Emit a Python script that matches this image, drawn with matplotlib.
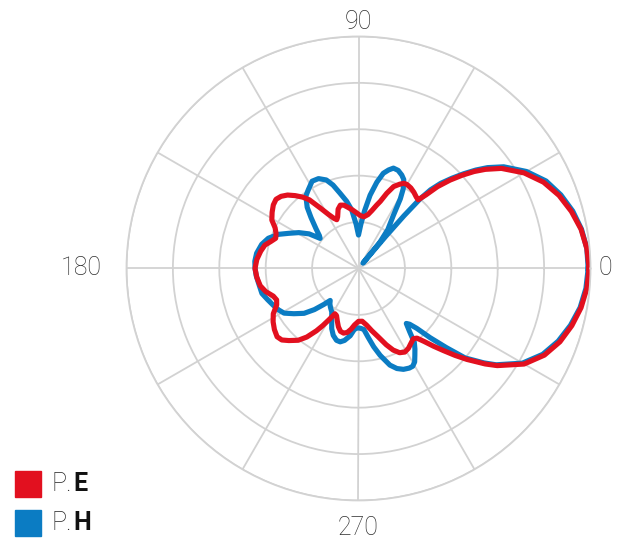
import numpy as np
import matplotlib
matplotlib.use("Agg")
import matplotlib.pyplot as plt
from matplotlib.patches import Rectangle

# radiation pattern, angle in degrees, radius in grid-ring units (0..5)
pe_deg = [0, 5, 10, 15, 20, 25, 30, 35, 38, 40, 42, 44, 46, 47.5, 49, 51, 54, 57, 60, 62,
          64, 66.8, 69.4, 72, 74, 77, 80, 84, 88, 92, 96, 100, 103, 106, 109, 112, 114, 116,
          119, 122, 125.6, 128, 131, 134, 137, 140, 143.3, 147, 150.8, 154, 157, 160, 163,
          166, 170, 175, 180, 185, 190, 194, 198, 201, 204, 208, 212, 216, 220, 223, 226,
          230, 233, 236, 238, 240, 242.5, 245, 248, 251, 254, 257, 260, 263, 266, 270, 274,
          278, 282, 286, 290, 293, 296, 299, 302, 305, 308, 310, 312, 314, 316, 318, 320,
          323, 325, 330, 335, 340, 345, 350, 355, 360]
pe_r = [4.97, 4.94, 4.87, 4.75, 4.6, 4.4, 4.12, 3.76, 3.47, 3.25, 3.0, 2.74, 2.45, 2.15,
        1.96, 1.98, 2.03, 2.07, 2.09, 2.08, 2.02, 1.92, 1.73, 1.52, 1.42, 1.28, 1.18, 1.12,
        1.14, 1.2, 1.27, 1.34, 1.4, 1.42, 1.35, 1.2, 1.15, 1.2, 1.33, 1.52, 1.82, 1.95, 2.08,
        2.2, 2.28, 2.32, 2.29, 2.22, 2.14, 2.0, 1.93, 1.9, 1.98, 2.08, 2.14, 2.2, 2.23, 2.2,
        2.15, 2.06, 1.93, 1.89, 1.93, 2.08, 2.17, 2.24, 2.29, 2.26, 2.16, 2.02, 1.85, 1.62,
        1.45, 1.28, 1.1, 1.12, 1.22, 1.33, 1.41, 1.43, 1.4, 1.32, 1.22, 1.14, 1.14, 1.23,
        1.37, 1.53, 1.75, 1.91, 2.02, 2.06, 2.03, 1.97, 1.92, 1.96, 2.12, 2.33, 2.55, 2.8,
        3.05, 3.42, 3.65, 4.12, 4.42, 4.62, 4.76, 4.87, 4.94, 4.97]

ph_deg = [0, 5, 10, 15, 20, 25, 30, 35, 38, 40, 42, 44, 46, 47.5, 48.5, 49.2, 49.7, 50.2,
          50.9, 53, 56.7, 59, 60.7, 63, 65.2, 68, 70.8, 73, 75.4, 78, 81, 84, 87, 90, 93,
          96.6, 100, 103.8, 107, 110, 114, 118, 122.6, 126, 130, 133, 137, 140, 141.9, 145,
          149, 153.4, 157, 161.5, 166, 171.5, 176, 180, 184, 188, 194.5, 199, 203.4, 207.4,
          211, 215, 219.5, 223, 226, 228.5, 231, 234, 238.4, 242.5, 246, 249.3, 253, 256,
          259, 263, 266, 269, 272, 275, 278, 281, 284, 288, 291, 294, 297, 299, 301, 303,
          305, 307, 309, 311, 312.5, 314.2, 316, 318, 320, 323, 325, 330, 335, 340, 345,
          350, 355, 360]
ph_r = [4.95, 4.94, 4.88, 4.78, 4.64, 4.46, 4.18, 3.82, 3.53, 3.3, 3.05, 2.8, 2.55, 2.3,
        2.0, 1.5, 0.9, 0.15, 0.74, 1.05, 1.37, 1.75, 1.97, 2.15, 2.22, 2.28, 2.29, 2.22,
        2.12, 1.9, 1.6, 1.25, 0.95, 0.72, 0.95, 1.27, 1.47, 1.67, 1.88, 2.03, 2.12, 2.13,
        2.01, 1.93, 1.72, 1.5, 1.25, 1.1, 1.05, 1.3, 1.5, 1.69, 1.88, 2.05, 2.15, 2.22,
        2.24, 2.23, 2.21, 2.18, 2.15, 2.07, 2.0, 1.94, 1.87, 1.7, 1.52, 1.3, 1.08, 0.92,
        0.98, 1.03, 1.1, 1.25, 1.42, 1.54, 1.62, 1.63, 1.58, 1.46, 1.32, 1.28, 1.29, 1.32,
        1.5, 1.72, 1.93, 2.19, 2.31, 2.38, 2.41, 2.41, 2.35, 2.23, 2.12, 2.0, 1.75, 1.57,
        1.63, 1.8, 2.15, 2.55, 3.0, 3.38, 3.62, 4.08, 4.38, 4.58, 4.73, 4.85, 4.92, 4.95]

axis_labels = ["0", "90", "180", "270"]
legend_names = [("P.", "E"), ("P.", "H")]

RED = "#e2101f"
BLUE = "#0b7cc3"
GRID = "#d2d2d2"

fig = plt.figure(figsize=(6.25, 5.44), dpi=100)
ax = fig.add_axes([0.2024, 0.08, 0.7424, 0.853], projection="polar")

ax.plot(np.radians(ph_deg), ph_r, color=BLUE, lw=3.7, solid_joinstyle="round")
ax.plot(np.radians(pe_deg), pe_r, color=RED, lw=3.7, solid_joinstyle="round")

ax.set_ylim(0, 5)
ax.set_yticks([1, 2, 3, 4, 5])
ax.set_yticklabels([])
ax.set_xticks(np.radians(np.arange(0, 360, 30)))
ax.set_xticklabels([])
ax.grid(True, color=GRID, lw=1.3)
ax.spines["polar"].set_color(GRID)
ax.spines["polar"].set_linewidth(1.3)

lab_font = dict(family="Roboto", weight="light", size=18, color="#2e2e2e")
for ang, lab, rr in zip([0, 90, 180, 270], axis_labels, [5.31, 5.32, 5.97, 5.6]):
    ax.text(np.radians(ang), rr, lab, ha="center", va="center", clip_on=False, **lab_font)

# legend drawn by hand: light "P." + bold letter
for i, (pre, letter) in enumerate(legend_names):
    col = RED if i == 0 else BLUE
    ytop = 471 + i * 39
    fig.patches.append(Rectangle((15 / 625, 1 - (ytop + 26) / 544), 26 / 625, 26 / 544,
                                 transform=fig.transFigure, color=col))
    yc = 1 - (ytop + 13) / 544
    fig.text(52 / 625, yc, pre, ha="left", va="center", family="Roboto",
             weight="light", size=18, color="#222222")
    fig.text(73 / 625, yc, letter, ha="left", va="center", family="Roboto",
             weight="bold", size=18, color="#111111")

fig.savefig("out.png", dpi=100)
